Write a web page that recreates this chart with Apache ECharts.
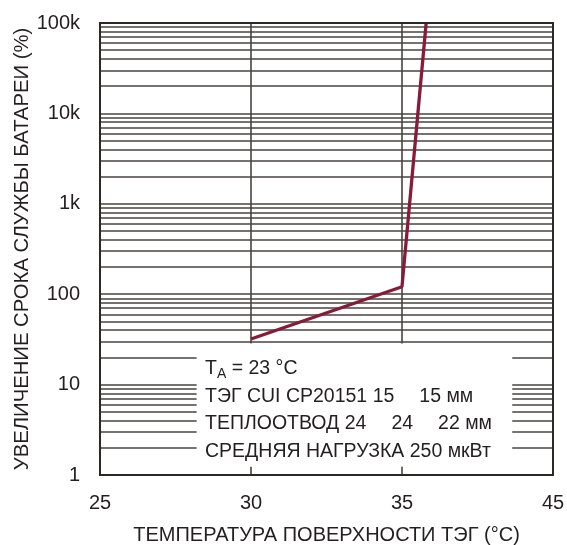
<!DOCTYPE html>
<html>
<head>
<meta charset="utf-8">
<script src="https://cdn.jsdelivr.net/npm/echarts@6/dist/echarts.min.js"></script>
<style>html,body{margin:0;padding:0;background:#fff}#c{width:567px;height:545px}</style>
</head>
<body>
<div id="c"></div>
<script>
// ---- data ----
var xTickLabels = [25, 30, 35, 45];            // printed x ticks (equally spaced on the chart)
var yTickLabels = ['1', '10', '100', '1k', '10k', '100k'];
var temps = [30, 35, 36.6];                    // TEG surface temperature (°C)
var lifeGain = [32, 121, 100000];              // battery life increase (%)
var noteTA = ['T', 'A', ' = 23 °C'];
var noteTEG = ['ТЭГ CUI CP20151 15', '15 мм'];
var noteSink = ['ТЕПЛООТВОД 24', '24', '22 мм'];
var noteLoad = 'СРЕДНЯЯ НАГРУЗКА 250 мкВт';

// map a temperature onto the equally spaced printed ticks
function toAxis(t) {
  for (var i = 0; i < xTickLabels.length - 1; i++) {
    var a = xTickLabels[i], b = xTickLabels[i + 1];
    if (t <= b || i === xTickLabels.length - 2) return i + (t - a) / (b - a);
  }
}
var seriesData = temps.map(function (t, i) { return [toAxis(t), lifeGain[i]]; });

var minorVals = [];
for (var d = 0; d < 5; d++) for (var k = 2; k <= 9; k++) minorVals.push(k * Math.pow(10, d));

var FONT = "'Liberation Sans', Arial, sans-serif";
var GRID = '#474340';
var INK = '#231f20';
var chart = echarts.init(document.getElementById('c'), null, {renderer: 'canvas'});
chart.setOption({
  animation: false,
  backgroundColor: '#fff',
  grid: {left: 100, right: 14, top: 23, bottom: 70, show: true, borderColor: '#2b2826', borderWidth: 2,
    backgroundColor: 'transparent', z: 5, outerBoundsMode: 'none', containLabel: false},
  xAxis: {
    type: 'value', min: 0, max: xTickLabels.length - 1, interval: 1,
    axisLine: {show: true, lineStyle: {color: '#2b2826', width: 2}},
    axisTick: {show: false},
    splitLine: {show: true, lineStyle: {color: GRID, width: 1.6}},
    axisLabel: {color: INK, fontFamily: FONT, fontSize: 20, margin: 18,
      formatter: function (v) { return String(xTickLabels[Math.round(v)]); }},
    name: 'ТЕМПЕРАТУРА ПОВЕРХНОСТИ ТЭГ (°C)', nameLocation: 'middle', nameGap: 50,
    nameTextStyle: {color: INK, fontFamily: FONT, fontSize: 20}
  },
  yAxis: {
    type: 'log', logBase: 10, min: 1, max: 100000,
    axisLine: {show: true, lineStyle: {color: '#2b2826', width: 2}},
    axisTick: {show: false},
    splitLine: {show: true, lineStyle: {color: GRID, width: 1.6}},
    axisLabel: {color: INK, fontFamily: FONT, fontSize: 20, margin: 20,
      formatter: function (v) { return yTickLabels[Math.round(Math.log10(v))]; }},
    name: 'УВЕЛИЧЕНИЕ СРОКА СЛУЖБЫ БАТАРЕИ (%)', nameLocation: 'middle', nameGap: 68,
    nameMoveOverlap: false,
    nameTextStyle: {color: INK, fontFamily: FONT, fontSize: 20.3}
  },
  series: [
    {
      type: 'line', data: [], silent: true, z: 1,
      markLine: {silent: true, symbol: 'none', z: 1, label: {show: false},
        lineStyle: {color: GRID, width: 1.6, type: 'solid'},
        data: minorVals.map(function (v) { return {yAxis: v}; })}
    },
    {
      type: 'line', data: [], silent: true, z: 2,
      markArea: {silent: true, z: 3, itemStyle: {color: '#fff'}, label: {show: false},
        data: [[{xAxis: toAxis(28.2), yAxis: 28.5}, {xAxis: toAxis(42.3), yAxis: 1.23}]]}
    },
    {
      type: 'line', data: seriesData, showSymbol: false, z: 4,
      lineStyle: {color: '#861b3a', width: 3.3},
      itemStyle: {color: '#861b3a'}
    }
  ],
  graphic: [{
    type: 'text', left: 205, top: 357, z: 100,
    style: {
      text: '{t|' + noteTA[0] + '}{s|' + noteTA[1] + '}{t|' + noteTA[2] + '}\n' +
            '{t|' + noteTEG[0] + '}{g| }{t|' + noteTEG[1] + '}\n' +
            '{t|' + noteSink[0] + '}{g| }{t|' + noteSink[1] + '}{g| }{t|' + noteSink[2] + '}\n' +
            '{t|' + noteLoad + '}',
      rich: {
        t: {fontFamily: FONT, fontSize: 19.5, fill: INK, lineHeight: 27.5},
        g: {fontFamily: FONT, fontSize: 19.5, width: 25, lineHeight: 27.5},
        s: {fontFamily: FONT, fontSize: 14, fill: INK, lineHeight: 27.5, padding: [10, 0, 0, 0]}
      }
    }
  }]
});
</script>
</body>
</html>
